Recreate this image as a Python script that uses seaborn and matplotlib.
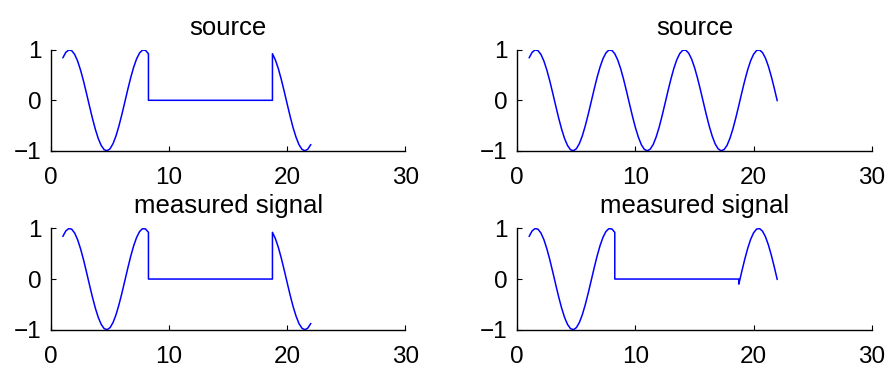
import matplotlib

matplotlib.use("Agg")

import matplotlib.pyplot as plt
import numpy as np
import pandas as pd
import seaborn as sns

# sample times (1 .. 22, every 0.25)
time = [
    1.00, 1.25, 1.50, 1.75, 2.00, 2.25, 2.50, 2.75, 3.00, 3.25, 3.50, 3.75,
    4.00, 4.25, 4.50, 4.75, 5.00, 5.25, 5.50, 5.75, 6.00, 6.25, 6.50, 6.75,
    7.00, 7.25, 7.50, 7.75, 8.00, 8.25, 8.50, 8.75, 9.00, 9.25, 9.50, 9.75,
    10.00, 10.25, 10.50, 10.75, 11.00, 11.25, 11.50, 11.75, 12.00, 12.25, 12.50, 12.75,
    13.00, 13.25, 13.50, 13.75, 14.00, 14.25, 14.50, 14.75, 15.00, 15.25, 15.50, 15.75,
    16.00, 16.25, 16.50, 16.75, 17.00, 17.25, 17.50, 17.75, 18.00, 18.25, 18.50, 18.75,
    19.00, 19.25, 19.50, 19.75, 20.00, 20.25, 20.50, 20.75, 21.00, 21.25, 21.50, 21.75,
    22.00,
]

# continuous source (right column, top)
wave = [
    0.841, 0.949, 0.997, 0.984, 0.909, 0.778, 0.598, 0.382, 0.141, -0.108, -0.351, -0.572,
    -0.757, -0.895, -0.978, -0.999, -0.959, -0.859, -0.706, -0.508, -0.279, -0.033, 0.215, 0.451,
    0.657, 0.823, 0.938, 0.995, 0.989, 0.922, 0.798, 0.625, 0.412, 0.173, -0.075, -0.319,
    -0.544, -0.732, -0.880, -0.971, -1.000, -0.967, -0.876, -0.728, -0.537, -0.311, -0.066, 0.183,
    0.420, 0.632, 0.804, 0.926, 0.991, 0.994, 0.935, 0.818, 0.650, 0.442, 0.206, -0.042,
    -0.288, -0.516, -0.712, -0.865, -0.961, -1.000, -0.976, -0.893, -0.751, -0.565, -0.342, -0.100,
    0.150, 0.390, 0.605, 0.784, 0.913, 0.986, 0.997, 0.946, 0.837, 0.675, 0.471, 0.238,
    -0.009,
]

# tail of the left-hand signal after the silent gap (t = 18.75 .. 22)
resumed_tail = [0.922, 0.798, 0.625, 0.412, 0.173, -0.075, -0.319,
                -0.544, -0.732, -0.880, -0.971, -1.000, -0.967, -0.876]

gap_time = [8.25, 18.75]
gap_value = [0.0, 0.0]

cut_a = 30   # up to t = 8.25 (last sample before the gap)
cut_b = 71   # index of t = 18.75 (first sample after the gap)

titles = ["source", "source", "measured signal", "measured signal"]

sns.set_theme(style="ticks")
plt.rcParams["font.family"] = ["Liberation Sans", "DejaVu Sans"]
plt.rcParams["text.color"] = "black"


def gapped(tail):
    t = time[:cut_a] + gap_time + time[cut_b:]
    y = wave[:cut_a] + gap_value + tail
    return pd.DataFrame({"t": t, "y": y})


frames = [
    gapped(resumed_tail),
    pd.DataFrame({"t": time, "y": wave}),
    gapped(resumed_tail),
    gapped(wave[cut_b:]),
]

fig = plt.figure(figsize=(8.89, 3.67), dpi=100)
boxes = [
    [0.0574, 0.5891, 0.3985, 0.2752],
    [0.5819, 0.5891, 0.3987, 0.2752],
    [0.0574, 0.1016, 0.3985, 0.2761],
    [0.5819, 0.1016, 0.3987, 0.2761],
]

for box, frame, title in zip(boxes, frames, titles):
    ax = fig.add_axes(box)
    sns.lineplot(data=frame, x="t", y="y", sort=False, estimator=None,
                 color="#0000ff", linewidth=1.1, ax=ax)
    ax.set_xlim(0, 30)
    ax.set_ylim(-1, 1)
    ax.set_xticks([0, 10, 20, 30])
    ax.set_yticks([-1, 0, 1])
    ax.set_yticklabels(["\u22121", "0", "1"])
    ax.set_xlabel("")
    ax.set_ylabel("")
    ax.set_title(title, fontsize=18.5, pad=11, color="black")
    sns.despine(ax=ax)
    for side in ("left", "bottom"):
        ax.spines[side].set_linewidth(1.0)
        ax.spines[side].set_color("black")
    ax.tick_params(direction="in", length=3.5, width=0.8, labelsize=17.5, colors="black")
    ax.tick_params(axis="x", pad=12)
    ax.tick_params(axis="y", pad=7)

fig.savefig("out.png", dpi=100, facecolor="white")
plt.close(fig)
